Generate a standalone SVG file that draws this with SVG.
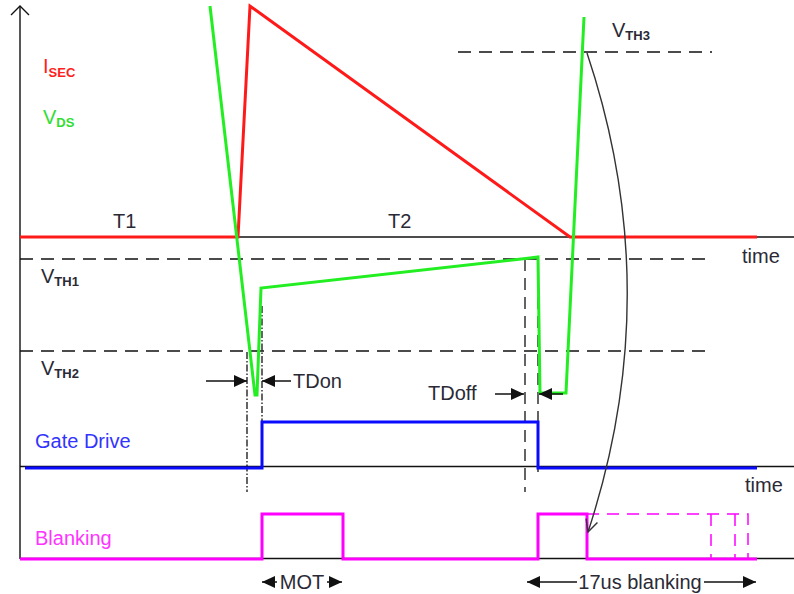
<svg xmlns="http://www.w3.org/2000/svg" width="794" height="594" viewBox="0 0 794 594">
<defs>
<style>
text{font-family:"Liberation Sans",Arial,sans-serif;font-size:20px;fill:#2a2a36}
.sub{font-size:13px;font-weight:bold}
.axis{stroke:#111;stroke-width:1.4;fill:none}
.dash{stroke:#111;stroke-width:1.5;fill:none;stroke-dasharray:13 8}
.vdash{stroke:#111;stroke-width:1.3;fill:none;stroke-dasharray:12 7}
.vdd{stroke:#111;stroke-width:1.3;fill:none;stroke-dasharray:7 2 1.5 2}
.red{stroke:#ff1a1a;stroke-width:3;fill:none;stroke-linejoin:miter}
.green{stroke:#22ee22;stroke-width:3;fill:none}
.blue{stroke:#0a0aff;stroke-width:3;fill:none}
.mag{stroke:#ff00ff;stroke-width:3;fill:none}
.magd{stroke:#ff00ff;stroke-width:1.5;fill:none;stroke-dasharray:12 8}
.arr{stroke:#111;stroke-width:1.5;fill:none}
</style>
<marker id="ah" markerUnits="userSpaceOnUse" markerWidth="14" markerHeight="12" refX="13" refY="6" orient="auto">
<path d="M0,0 L13,6 L0,12 z" fill="#111"/>
</marker>
<marker id="ahs" markerUnits="userSpaceOnUse" markerWidth="14" markerHeight="12" refX="0" refY="6" orient="auto">
<path d="M13,0 L0,6 L13,12 z" fill="#111"/>
</marker>
<marker id="open" markerUnits="userSpaceOnUse" markerWidth="16" markerHeight="16" refX="13" refY="7" orient="auto">
<path d="M1,1 L13,7 L1,13" fill="none" stroke="#333" stroke-width="1.4"/>
</marker>
</defs>
<rect width="794" height="594" fill="#fff"/>

<g id="axes">
<line class="axis" x1="20" y1="6" x2="20" y2="559"/>
<path class="axis" d="M11,15 L20,6 L29,15"/>
<line class="axis" x1="20" y1="237" x2="794" y2="237"/>
<line class="axis" x1="20" y1="466.5" x2="794" y2="466.5"/>
<line class="axis" x1="20" y1="558.5" x2="794" y2="558.5"/>
</g>

<g id="thresholds">
<line class="dash" x1="20" y1="259" x2="712" y2="259"/>
<line class="dash" x1="20" y1="351" x2="712" y2="351"/>
<line class="dash" x1="458" y1="52" x2="712" y2="52"/>
</g>

<g id="markers">
<line class="vdd" x1="247" y1="352" x2="247" y2="492"/>
<line class="vdd" x1="262" y1="306" x2="262" y2="462"/>
<line class="vdash" x1="525" y1="259" x2="525" y2="492"/>
<line class="vdash" x1="538" y1="259" x2="538" y2="472"/>
</g>

<g id="isec">
<polyline class="red" points="20,237 238,237 250,6 570,237 757,237"/>
</g>

<g id="vds">
<polyline class="green" points="210,6 255,395 257,395 261,288 530,258 538,257 540,393 566,393 584,17"/>
</g>

<g id="gate">
<polyline class="blue" points="25,468 262,468 262,422 538,422 538,468 757,468"/>
</g>

<g id="blanking">
<polyline class="mag" points="20,559 262,559 262,514 343,514 343,559 538,559 538,514 587,514 587,559 757,559"/>
<polyline class="magd" points="587,514 748,514 748,559"/>
<line class="magd" x1="711" y1="514" x2="711" y2="559"/>
<line class="magd" x1="735" y1="514" x2="735" y2="559"/>
</g>

<g id="connectors">
<line class="arr" x1="206" y1="381" x2="247" y2="381" marker-end="url(#ah)"/>
<line class="arr" x1="291" y1="381" x2="262" y2="381" marker-end="url(#ah)"/>
<line class="arr" x1="495" y1="394" x2="524" y2="394" marker-end="url(#ah)"/>
<line class="arr" x1="563" y1="394" x2="539" y2="394" marker-end="url(#ah)"/>
<line class="arr" x1="277" y1="582" x2="262" y2="582" marker-end="url(#ah)"/>
<line class="arr" x1="327" y1="582" x2="342" y2="582" marker-end="url(#ah)"/>
<line class="arr" x1="577" y1="582" x2="527" y2="582" marker-end="url(#ah)"/>
<line class="arr" x1="704" y1="582" x2="756" y2="582" marker-end="url(#ah)"/>
<path d="M587,53 Q667,292 588,532" fill="none" stroke="#333" stroke-width="1.4" marker-end="url(#open)"/>
</g>

<g id="labels">
<text x="43" y="73" fill="#ff2020" style="fill:#ff2020">I<tspan class="sub" dy="4" style="fill:#ff2020">SEC</tspan></text>
<text x="43" y="124" style="fill:#33dd33">V<tspan class="sub" dy="3" style="fill:#33dd33">DS</tspan></text>
<text x="113" y="228">T1</text>
<text x="388" y="228">T2</text>
<text x="742" y="263">time</text>
<text x="745" y="492">time</text>
<text x="41" y="283">V<tspan class="sub" dy="3">TH1</tspan></text>
<text x="41" y="375">V<tspan class="sub" dy="3">TH2</tspan></text>
<text x="612" y="37">V<tspan class="sub" dy="3">TH3</tspan></text>
<text x="293" y="388">TDon</text>
<text x="428" y="400">TDoff</text>
<text x="35" y="448" style="fill:#3333ff">Gate Drive</text>
<text x="35" y="545" style="fill:#ff33ff">Blanking</text>
<text x="302" y="589" text-anchor="middle">MOT</text>
<text x="640" y="589" text-anchor="middle">17us blanking</text>
</g>
</svg>
